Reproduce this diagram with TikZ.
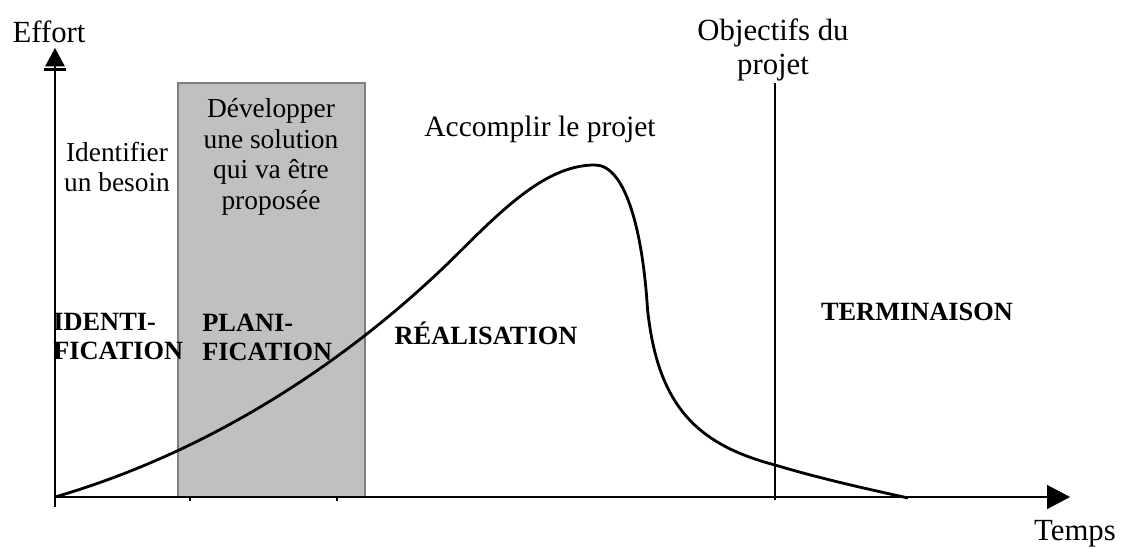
\documentclass[tikz,border=0pt]{standalone}
\usepackage{fontspec}
\setmainfont{Liberation Serif}
\usetikzlibrary{arrows.meta,positioning}
\definecolor{colorBOX}{RGB}{192,192,192}
\definecolor{colorBOXLINE}{RGB}{128,128,128}
\tikzset{
   every node/.style={font=\fontsize{15.6}{17.5}\selectfont},
   axisy/.style={-{Bar[width=13pt,line width=1.6pt,sep=1pt]Triangle[width=11pt,length=10.5pt]},line width=1.1pt},
   axisx/.style={-{Triangle[width=13.5pt,length=13pt]},line width=1.1pt},
   effort/.style={line width=1.6pt,line join=round},
   goal/.style={line width=1pt},
   tick/.style={line width=0.8pt},
   phasebox/.style={fill=colorBOX,draw=colorBOXLINE,line width=1.1pt},
   note/.style={align=center,inner sep=0pt},
   big/.style={font=\fontsize{17.5}{19}\selectfont},
   phase/.style={align=left,inner sep=0pt,font=\fontsize{15}{16.5}\selectfont\bfseries},
}
\begin{document}
\begin{tikzpicture}
      \useasboundingbox (0,0) rectangle (22.5,10.98);
      % axes
      \coordinate (orig) at (1.10,1.04);
      \coordinate (ybot) at (1.10,0.84);
      \coordinate (ytop) at (1.10,10.02);
      \coordinate (xend) at (21.40,1.04);
      \node[big] (effortlab) at (0.98,10.34) {Effort};
      \node[big] (tempslab) at (21.50,0.30) {Temps};
      % planning box
      \draw[tick] (3.80,1.04) -- (3.80,0.96);
      \draw[tick] (6.74,1.04) -- (6.74,0.96);
      \draw[phasebox] (3.56,1.04) rectangle (7.30,9.32);
      \draw[axisx] (orig) -- (xend);
      \draw[axisy] (ybot) -- (ytop);
      % objectifs
      \node[note,big] (objlab) at (15.46,9.98) {Objectifs du\\projet};
      \coordinate (objtop) at (15.50,9.32);
      \coordinate (objbot) at (15.50,0.98);
      \draw[goal] (objtop) -- (objbot);
      % effort curve
      \draw[effort] (orig)
        .. controls (4.40,2.00) and (7.20,3.95) .. (9.20,5.95)
        .. controls (10.20,6.95) and (11.00,7.68) .. (11.90,7.68)
        .. controls (12.50,7.68) and (12.85,6.40) .. (12.95,4.80)
        .. controls (13.15,2.90) and (13.90,2.10) .. (15.50,1.68)
        .. controls (16.40,1.41) and (17.26,1.22) .. (18.16,1.02);
      % texts
      \node[note] (besoin) at (2.34,7.64) {Identifier\\un besoin};
      \node[note] (solution) at (5.42,7.84) {Développer\\une solution\\qui va être\\proposée};
      \node[note,font=\fontsize{16.8}{18}\selectfont] (accomplir) at (10.80,8.40) {Accomplir le projet};
      \node[phase,anchor=west] (ident) at (1.06,4.24) {IDENTI-\\FICATION};
      \node[phase,anchor=west] (plani) at (4.04,4.24) {PLANI-\\FICATION};
      \node[phase] (real) at (9.72,4.32) {RÉALISATION};
      \node[phase] (term) at (18.34,4.74) {TERMINAISON};
    \end{tikzpicture}
\end{document}
